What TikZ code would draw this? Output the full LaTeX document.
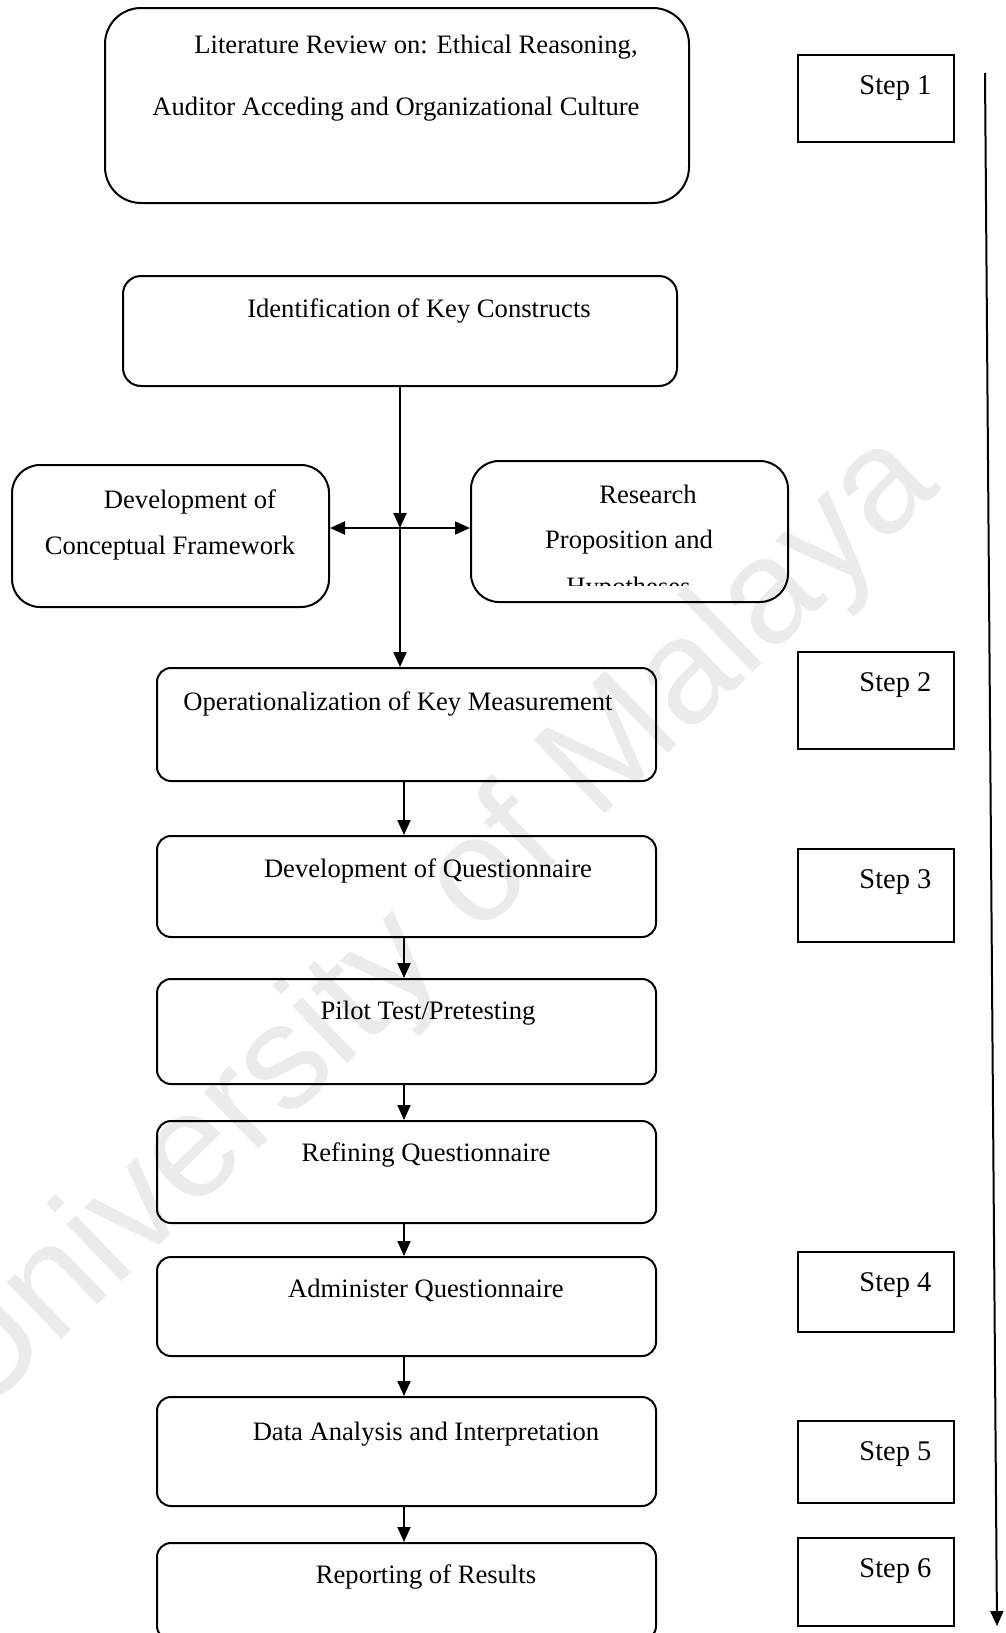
\documentclass[tikz,border=0pt]{standalone}
\usepackage{fontspec}
\setmainfont{Liberation Serif}
\newfontfamily\wmfont{Liberation Sans}
\usetikzlibrary{arrows.meta,fit}

\tikzset{
  frame/.style={draw, line width=1pt, inner sep=0pt},
  roundbox/.style={frame, rounded corners=#1},
  roundbox/.default=7pt,
  stepbox/.style={frame},
  label/.style={inner sep=0pt, anchor=base, font=\fontsize{13.3pt}{16pt}\selectfont},
  steplabel/.style={inner sep=0pt, anchor=base west, font=\fontsize{14.25pt}{17pt}\selectfont},
  arr/.style={line width=1pt, -{Triangle[length=7.5pt,width=6.5pt]}},
  biarr/.style={line width=1pt, {Triangle[length=7.5pt,width=6.5pt]}-{Triangle[length=7.5pt,width=6.5pt]}},
  watermark/.style={inner sep=0pt, anchor=base, rotate=44, text=black!8,
    font=\wmfont\fontsize{74.5pt}{80pt}\selectfont}
}

\begin{document}
\begin{tikzpicture}[x=0.5pt,y=-0.5pt]
\useasboundingbox (0,0) rectangle (1006,1633);

% faint background lettering
\node[watermark] (wm) at (460,955) {University of Malaya};

% main flow boxes
\node[roundbox=18pt, fit={(105,8) (689,203)}] (lit) {};
\node[roundbox=9pt,  fit={(123,276) (677,386)}] (ident) {};
\node[roundbox=14pt, fit={(12,465) (329,607)}] (devcf) {};
\node[roundbox=14pt, fit={(471,461) (788,602)}] (resh) {};
\node[roundbox, fit={(157,668) (656,781)}] (oper) {};
\node[roundbox, fit={(157,836) (656,937)}] (devq) {};
\node[roundbox, fit={(157,979) (656,1084)}] (pilot) {};
\node[roundbox, fit={(157,1121) (656,1223)}] (refine) {};
\node[roundbox, fit={(157,1257) (656,1356)}] (admin) {};
\node[roundbox, fit={(157,1397) (656,1506)}] (data) {};
\node[roundbox, fit={(157,1543) (656,1640)}] (report) {};

% step boxes
\node[stepbox, fit={(798,55) (954,142)}] (s1) {};
\node[stepbox, fit={(798,652) (954,749)}] (s2) {};
\node[stepbox, fit={(798,849) (954,942)}] (s3) {};
\node[stepbox, fit={(798,1252) (954,1332)}] (s4) {};
\node[stepbox, fit={(798,1421) (954,1503)}] (s5) {};
\node[stepbox, fit={(798,1538) (954,1626)}] (s6) {};

% box texts
\node[label] (litA) at (416,53.5) {Literature Review on: Ethical Reasoning,};
\node[label] (litB) at (396,115) {Auditor Acceding and Organizational Culture};
\node[label] (identT) at (419,317) {Identification of Key Constructs};
\node[label] (devcfA) at (190,508) {Development of};
\node[label] (devcfB) at (170,554) {Conceptual Framework};
\node[label] (reshA) at (648,503) {Research};
\node[label] (reshB) at (629,548) {Proposition and};
\begin{scope}
  \clip (471,461) rectangle (788,585);
  \node[label] (reshC) at (628.5,595.5) {Hypotheses};
\end{scope}
\node[label] (operT) at (398,710) {Operationalization of Key Measurement};
\node[label] (devqT) at (428,877) {Development of Questionnaire};
\node[label] (pilotT) at (428,1019) {Pilot Test/Pretesting};
\node[label] (refineT) at (426,1161) {Refining Questionnaire};
\node[label] (adminT) at (426,1297) {Administer Questionnaire};
\node[label] (dataT) at (426,1440) {Data Analysis and Interpretation};
\node[label] (reportT) at (426,1583) {Reporting of Results};

% step texts
\node[steplabel] (s1T) at (859,94) {Step 1};
\node[steplabel] (s2T) at (859,691) {Step 2};
\node[steplabel] (s3T) at (859,888) {Step 3};
\node[steplabel] (s4T) at (859,1291) {Step 4};
\node[steplabel] (s5T) at (859,1460) {Step 5};
\node[steplabel] (s6T) at (859,1577) {Step 6};

% connectors
\coordinate (hub) at (400,528);
\coordinate (spine) at (404,0);
\draw[arr] (ident.south) -- (hub);
\draw[arr] (hub) -- (hub |- oper.north);
\draw[biarr] (devcf.east |- hub) -- (resh.west |- hub);
\draw[arr] (oper.south -| spine) -- (devq.north -| spine);
\draw[arr] (devq.south -| spine) -- (pilot.north -| spine);
\draw[arr] (pilot.south -| spine) -- (refine.north -| spine);
\draw[arr] (refine.south -| spine) -- (admin.north -| spine);
\draw[arr] (admin.south -| spine) -- (data.north -| spine);
\draw[arr] (data.south -| spine) -- (report.north -| spine);

% overall sequence arrow
\coordinate (seqTop) at (985,73);
\coordinate (seqEnd) at (997,1626);
\draw[arr] (seqTop) -- (seqEnd);
\end{tikzpicture}
\end{document}
